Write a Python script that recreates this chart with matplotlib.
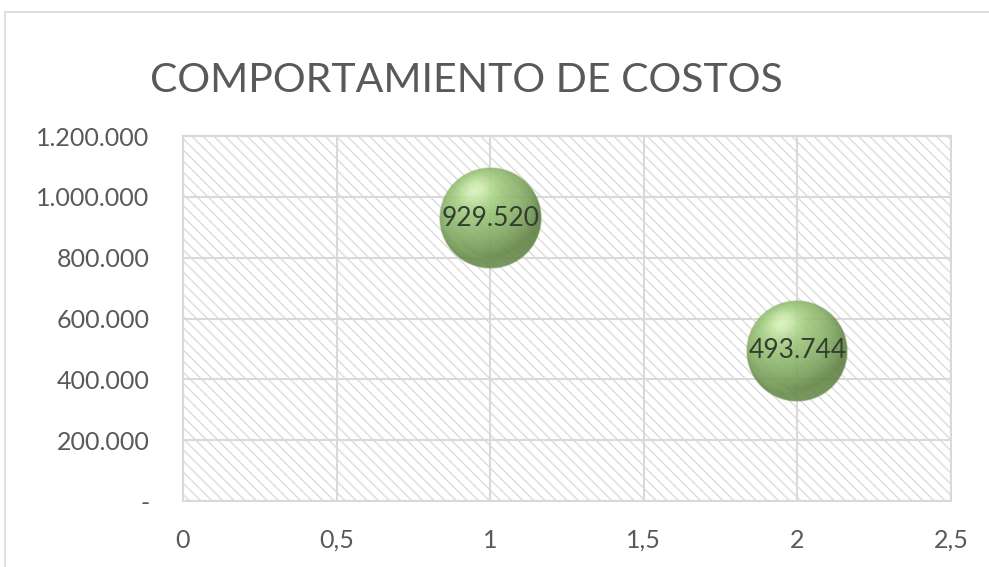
import numpy as np
import matplotlib; matplotlib.use('Agg')
import matplotlib.pyplot as plt
from matplotlib.patches import Rectangle
from matplotlib.ticker import FuncFormatter

titulo = "COMPORTAMIENTO DE COSTOS"
x_vals = [1, 2]
costos = [929520, 493744]
etiquetas = ["929.520", "493.744"]
x_ticks = [0, 0.5, 1, 1.5, 2, 2.5]
y_ticks = [0, 200000, 400000, 600000, 800000, 1000000, 1200000]

plt.rcParams['font.family'] = ['Lato', 'DejaVu Sans']
plt.rcParams['hatch.linewidth'] = 1.0

fig = plt.figure(figsize=(9.89, 5.67), dpi=100)
ax = fig.add_axes([0.185, 0.1164, 0.7766, 0.6436])

# marco exterior del grafico
fig.patches.append(Rectangle((5/989, -0.1), 1.2, 1 - 12/567 + 0.1, transform=fig.transFigure,
                             fill=False, edgecolor='#d9d9d9', linewidth=1.2))

ax.set_xlim(0, 2.5); ax.set_ylim(0, 1200000)
ax.add_patch(Rectangle((0, 0), 1, 1, transform=ax.transAxes, facecolor='white',
                       edgecolor='#dcdcdc', linewidth=0, hatch='\\' * 3, zorder=0))
ax.set_xticks(x_ticks); ax.set_yticks(y_ticks)
ax.xaxis.set_major_formatter(FuncFormatter(lambda v, p: f"{v:g}".replace('.', ',')))
ax.yaxis.set_major_formatter(FuncFormatter(lambda v, p: '-' if v == 0 else f"{v:,.0f}".replace(',', '.')))
ax.tick_params(length=0, labelsize=18, labelcolor='#595959')
ax.tick_params(axis='y', pad=24)
ax.tick_params(axis='x', pad=20)
ax.grid(True, color='#d9d9d9', linewidth=1.5, zorder=1)
ax.set_axisbelow(True)
for s in ax.spines.values():
    s.set_color('#d9d9d9'); s.set_linewidth(1.5)

# esfera con sombreado
N = 200
u, v = np.meshgrid(np.linspace(-1, 1, N), np.linspace(1, -1, N))
d2 = u**2 + v**2
inside = d2 <= 1
z = np.sqrt(np.clip(1 - d2, 0, 1))
L = np.array([-0.3, 0.55, 0.78]); L = L / np.linalg.norm(L)
diff = np.clip(u*L[0] + v*L[1] + z*L[2], 0, 1)
spec = diff ** 18
dark = np.array([0.36, 0.50, 0.25]); light = np.array([0.64, 0.81, 0.50]); hi = np.array([0.86, 0.96, 0.74])
rgb = dark + (light - dark) * diff[..., None]
rgb = rgb + (hi - rgb) * spec[..., None] * 0.9
rim = np.clip((v + 0.3) * -1, 0, 1) * (d2 > 0.6) * 0.08
rgb = np.clip(rgb + rim[..., None], 0, 1)
edge = np.clip((1 - np.sqrt(d2)) * 60, 0, 1)
rgba = np.dstack([rgb, np.where(inside, 0.9 * edge, 0)])

fig.canvas.draw()
r = 51
inv = ax.transData.inverted()
for xv, yv, lab in zip(x_vals, costos, etiquetas):
    c = ax.transData.transform((xv, yv))
    x0, y0 = inv.transform(c - r); x1, y1 = inv.transform(c + r)
    ax.imshow(rgba, extent=[x0, x1, y0, y1], aspect='auto', zorder=3, interpolation='bilinear')
    ax.text(xv, yv, lab, ha='center', va='center', fontsize=19, color='#333d30', zorder=4)
ax.set_xlim(0, 2.5); ax.set_ylim(0, 1200000)

fig.text(0.472, 0.858, titulo, ha='center', va='center', fontsize=29.5, color='#595959')

plt.savefig('out.png', dpi=100)
plt.close()
